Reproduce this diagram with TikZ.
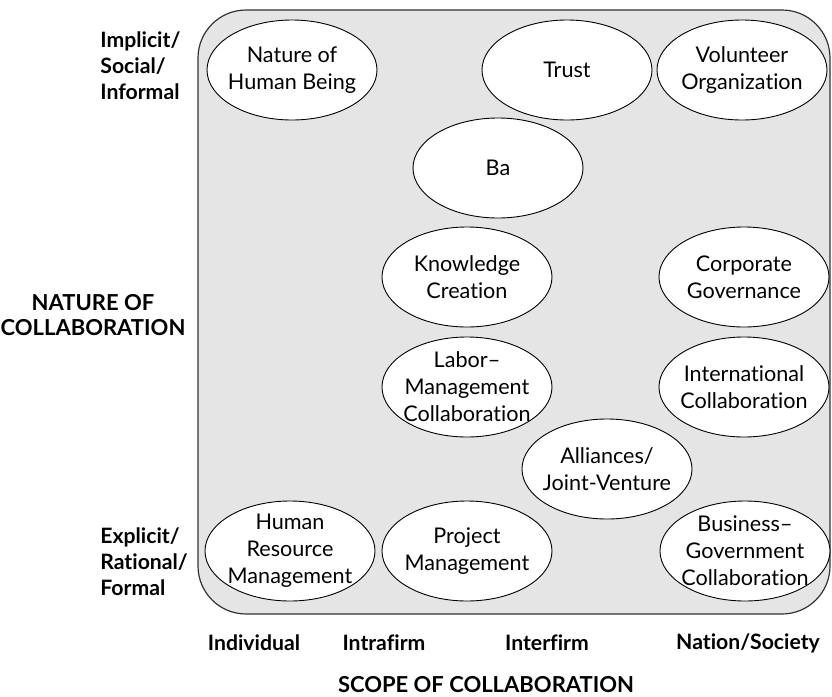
\documentclass[tikz,border=0pt]{standalone}
\usepackage{fontspec}
\setmainfont{Lato}[Ligatures={NoCommon}]
\usetikzlibrary{shapes.geometric}

\tikzset{
  topic/.style={ellipse, draw=black, line width=0.45pt, fill=white,
    minimum width=85pt, minimum height=50pt, inner sep=0pt,
    label={[align=center, inner sep=0pt,
            font=\fontsize{10.8pt}{13.5pt}\selectfont]center:#1}},
  axislabel/.style={inner sep=0pt, font=\bfseries\fontsize{10.6pt}{13pt}\selectfont},
  sidelabel/.style={axislabel, align=left, anchor=west},
  titlelabel/.style={inner sep=0pt, font=\bfseries\fontsize{11pt}{12.5pt}\selectfont, align=center}
}

\begin{document}
\begin{tikzpicture}[x=0.5pt, y=-0.5pt]
  \useasboundingbox (0,0) rectangle (832,697);

  % shaded field holding all topics
  \draw[fill=black!10, draw=black!80, line width=0.6pt, rounded corners=24pt]
    (198,10) rectangle (830,614);

  % topics (fixed-size ellipses, text set as a centred label)
  \node[topic={Nature of\\Human Being}]                 (human)     at (292,70)  {};
  \node[topic={Trust}]                                  (trust)     at (567,70)  {};
  \node[topic={Volunteer\\Organization}]                (volunteer) at (742,70)  {};
  \node[topic={Ba}]                                     (ba)        at (498,168) {};
  \node[topic={Knowledge\\Creation}]                    (knowledge) at (467,277) {};
  \node[topic={Corporate\\Governance}]                  (corporate) at (744,277) {};
  \node[topic={Labor–\\Management\\Collaboration}]      (labor)     at (467,387) {};
  \node[topic={International\\Collaboration}]           (intl)      at (744,387) {};
  \node[topic={Alliances/\\Joint-Venture}]              (alliance)  at (607,469) {};
  \node[topic={Human\\Resource\\Management}]            (hrm)       at (290,551) {};
  \node[topic={Project\\Management}]                    (project)   at (467,551) {};
  \node[topic={Business–\\Government\\Collaboration}]   (busgov)    at (745,551) {};

  % vertical axis
  \node[sidelabel] (implicit) at (100,66)  {Implicit/\\Social/\\Informal};
  \node[titlelabel] (nature)  at (93,315)  {NATURE OF\\COLLABORATION};
  \node[sidelabel] (explicit) at (100,562) {Explicit/\\Rational/\\Formal};

  % horizontal axis
  \node[axislabel] (individual) at (254,643) {Individual};
  \node[axislabel] (intrafirm)  at (384,643) {Intrafirm};
  \node[axislabel] (interfirm)  at (547,643) {Interfirm};
  \node[axislabel] (nation)     at (748,643) {Nation/Society};
  \node[titlelabel] (scope)     at (486,685) {SCOPE OF COLLABORATION};
\end{tikzpicture}
\end{document}
